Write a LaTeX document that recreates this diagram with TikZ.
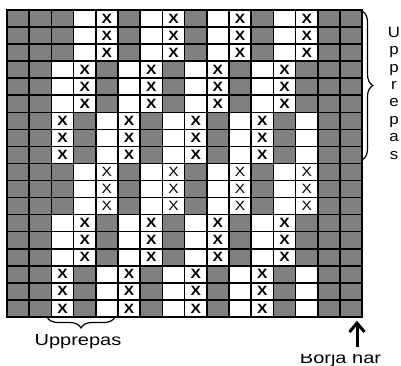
\documentclass[tikz,border=0pt]{standalone}
\usepackage{fontspec}
\setmainfont{Liberation Sans}
\usetikzlibrary{decorations.pathreplacing}
\definecolor{cellgray}{RGB}{128,128,128}
\tikzset{
  gridline/.style={line width=1.6pt, line cap=rect},
  xbold/.style={font=\fontsize{13.5}{13.5}\selectfont\bfseries, xscale=1.15, inner sep=0pt},
  xthin/.style={font=\fontsize{13.5}{13.5}\selectfont, xscale=1.15, inner sep=0pt},
  brace/.style={decorate, decoration={brace, amplitude=11pt}, line width=1.2pt},
  lbltext/.style={font=\fontsize{16}{16}\selectfont, xscale=1.25, inner sep=0pt, anchor=base},
  vletter/.style={font=\fontsize{15}{15}\selectfont, xscale=1.12, inner sep=0pt, anchor=base},
  arrowline/.style={line width=3pt, line join=miter},
}
\begin{document}
\begin{tikzpicture}[x=1pt,y=-1pt]
\useasboundingbox (0,0) rectangle (401,365);
\begin{scope}[shift={(7,10)},x=22.2pt,y=-17.05pt]
\fill[cellgray] (0,0) rectangle (16,18);
% white cells, three row blocks, twice
\foreach \r in {0,1,2,9,10,11}
  \foreach \c in {3,4,6,7,9,10,12,13}
    \fill[white] (\c,\r) rectangle ++(1,1);
\foreach \r in {3,4,5,12,13,14}
  \foreach \c in {2,3,5,6,8,9,11,12}
    \fill[white] (\c,\r) rectangle ++(1,1);
\foreach \r in {6,7,8,15,16,17}
  \foreach \c in {2,4,5,7,8,10,11,13}
    \fill[white] (\c,\r) rectangle ++(1,1);
% marks
\foreach \r in {0,1,2}
  \foreach \c in {4,7,10,13}
    \node[xbold] (xa-\r-\c) at ({\c+0.5},{\r+0.5}) {X};
\foreach \r in {9,10,11}
  \foreach \c in {4,7,10,13}
    \node[xthin] (xa-\r-\c) at ({\c+0.5},{\r+0.5}) {X};
\foreach \r in {3,4,5,12,13,14}
  \foreach \c in {3,6,9,12}
    \node[xbold] (xb-\r-\c) at ({\c+0.5},{\r+0.5}) {X};
\foreach \r in {6,7,8,15,16,17}
  \foreach \c in {2,5,8,11}
    \node[xbold] (xc-\r-\c) at ({\c+0.5},{\r+0.5}) {X};
% grid
\foreach \c in {0,...,16}
  \draw[gridline] (\c,0) -- (\c,18);
\foreach \r in {0,...,18}
  \draw[gridline] (0,\r) -- (16,\r);
\end{scope}
% right brace
\coordinate (rtop) at (362,11);
\coordinate (rbot) at (362,160);
\draw[brace] (rtop) -- (rbot);
\foreach \l [count=\i] in {U,p,p,r,e,p,a,s}
  \node[vletter] (up-\i) at (394,{37.3+(\i-1)*17.4}) {\l};
% bottom brace
\coordinate (bleft) at (47,317);
\coordinate (bright) at (115,317);
\draw[brace] (bright) -- (bleft);
\node[lbltext] (rep) at (78,345) {Upprepas};
% start arrow
\coordinate (sttail) at (357,347);
\coordinate (sttip) at (357,323);
\draw[arrowline] (sttail) -- (sttip);
\draw[arrowline] ([xshift=-7.5pt,yshift=-9pt]sttip) -- (sttip) -- ([xshift=7.5pt,yshift=-9pt]sttip);
\begin{scope}
\clip (290,354) rectangle (401,365);
\node[lbltext] (start) at (340.5,363) {Börja här};
\end{scope}
\end{tikzpicture}
\end{document}
